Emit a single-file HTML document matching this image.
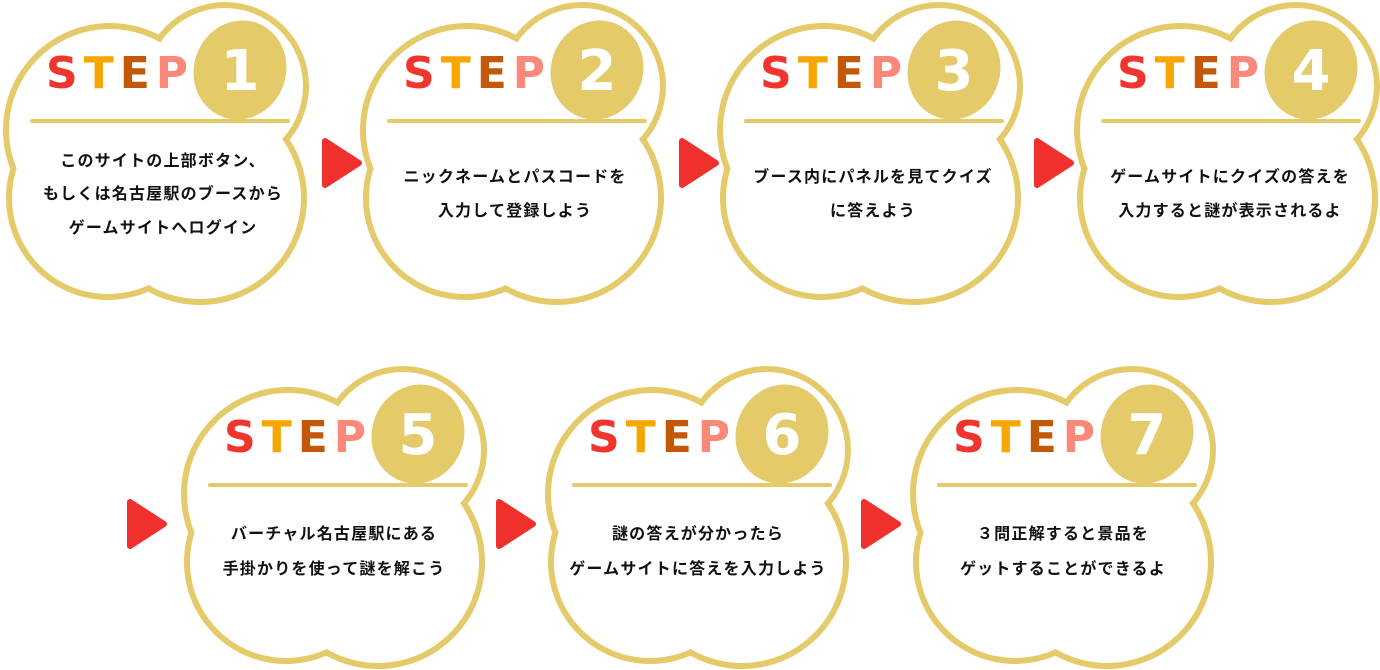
<!DOCTYPE html>
<html><head><meta charset="utf-8"><style>
html,body{margin:0;padding:0;background:#fff;}
svg{display:block;}
.st{font-family:"DejaVu Sans","Liberation Sans",sans-serif;font-weight:bold;font-size:44px;letter-spacing:6px;}
.num{font-family:"DejaVu Sans","Liberation Sans",sans-serif;font-weight:bold;font-size:56px;fill:#fff;}
.tx{font-family:"Liberation Sans","Noto Sans CJK JP",sans-serif;font-weight:bold;font-size:16px;letter-spacing:1.2px;fill:#111;}
</style></head><body>
<svg width="1380" height="670" viewBox="0 0 1380 670" xmlns="http://www.w3.org/2000/svg">
<defs>
<g id="cl">
<g fill="#e5ca6a">
<circle cx="110" cy="130" r="107"/><circle cx="225" cy="86" r="84"/><circle cx="200" cy="198" r="107"/><circle cx="108" cy="198" r="102"/>
</g>
<g fill="#fff">
<circle cx="110" cy="130" r="101"/><circle cx="225" cy="86" r="78"/><circle cx="200" cy="198" r="101"/><circle cx="108" cy="198" r="96"/>
</g>
<rect x="30" y="119" width="260" height="4" rx="2" fill="#e5ca6a"/>
<ellipse cx="240" cy="70" rx="46" ry="50" fill="#e5ca6a" transform="rotate(20 240 70)"/>
<text class="st" x="46" y="88"><tspan fill="#f0352f">S</tspan><tspan fill="#f7a600">T</tspan><tspan fill="#c25808">E</tspan><tspan fill="#fb8878">P</tspan></text>
</g>
<path id="ar" d="M0,0 L34,22 L0,44 Z" fill="#f0302c" stroke="#f0302c" stroke-width="6" stroke-linejoin="round"/>
</defs>

<g transform="translate(0,0)"><use href="#cl"/><text class="num" x="240" y="90" text-anchor="middle">1</text>
<text class="tx" x="163" y="166" text-anchor="middle">このサイトの上部ボタン、</text><text class="tx" x="163" y="199" text-anchor="middle">もしくは名古屋駅のブースから</text><text class="tx" x="163" y="233" text-anchor="middle">ゲームサイトへログイン</text></g>

<g transform="translate(357,0)"><use href="#cl"/><text class="num" x="240" y="90" text-anchor="middle">2</text>
<text class="tx" x="158" y="182" text-anchor="middle">ニックネームとパスコードを</text><text class="tx" x="158" y="216" text-anchor="middle">入力して登録しよう</text></g>

<g transform="translate(714,0)"><use href="#cl"/><text class="num" x="240" y="90" text-anchor="middle">3</text>
<text class="tx" x="159" y="182" text-anchor="middle">ブース内にパネルを見てクイズ</text><text class="tx" x="159" y="216" text-anchor="middle">に答えよう</text></g>

<g transform="translate(1071,0)"><use href="#cl"/><text class="num" x="240" y="90" text-anchor="middle">4</text>
<text class="tx" x="159" y="182" text-anchor="middle">ゲームサイトにクイズの答えを</text><text class="tx" x="159" y="216" text-anchor="middle">入力すると謎が表示されるよ</text></g>

<g transform="translate(178,364)"><use href="#cl"/><text class="num" x="240" y="90" text-anchor="middle">5</text>
<text class="tx" x="156" y="175" text-anchor="middle">バーチャル名古屋駅にある</text><text class="tx" x="156" y="210" text-anchor="middle">手掛かりを使って謎を解こう</text></g>

<g transform="translate(542,364)"><use href="#cl"/><text class="num" x="240" y="90" text-anchor="middle">6</text>
<text class="tx" x="156" y="175" text-anchor="middle">謎の答えが分かったら</text><text class="tx" x="156" y="210" text-anchor="middle">ゲームサイトに答えを入力しよう</text></g>

<g transform="translate(907,364)"><use href="#cl"/><text class="num" x="240" y="90" text-anchor="middle">7</text>
<text class="tx" x="156" y="175" text-anchor="middle">３問正解すると景品を</text><text class="tx" x="156" y="210" text-anchor="middle">ゲットすることができるよ</text></g>

<use href="#ar" x="325" y="141"/>
<use href="#ar" x="682" y="141"/>
<use href="#ar" x="1037" y="141"/>
<use href="#ar" x="130" y="502"/>
<use href="#ar" x="499" y="502"/>
<use href="#ar" x="864" y="502"/>
</svg>
</body></html>
